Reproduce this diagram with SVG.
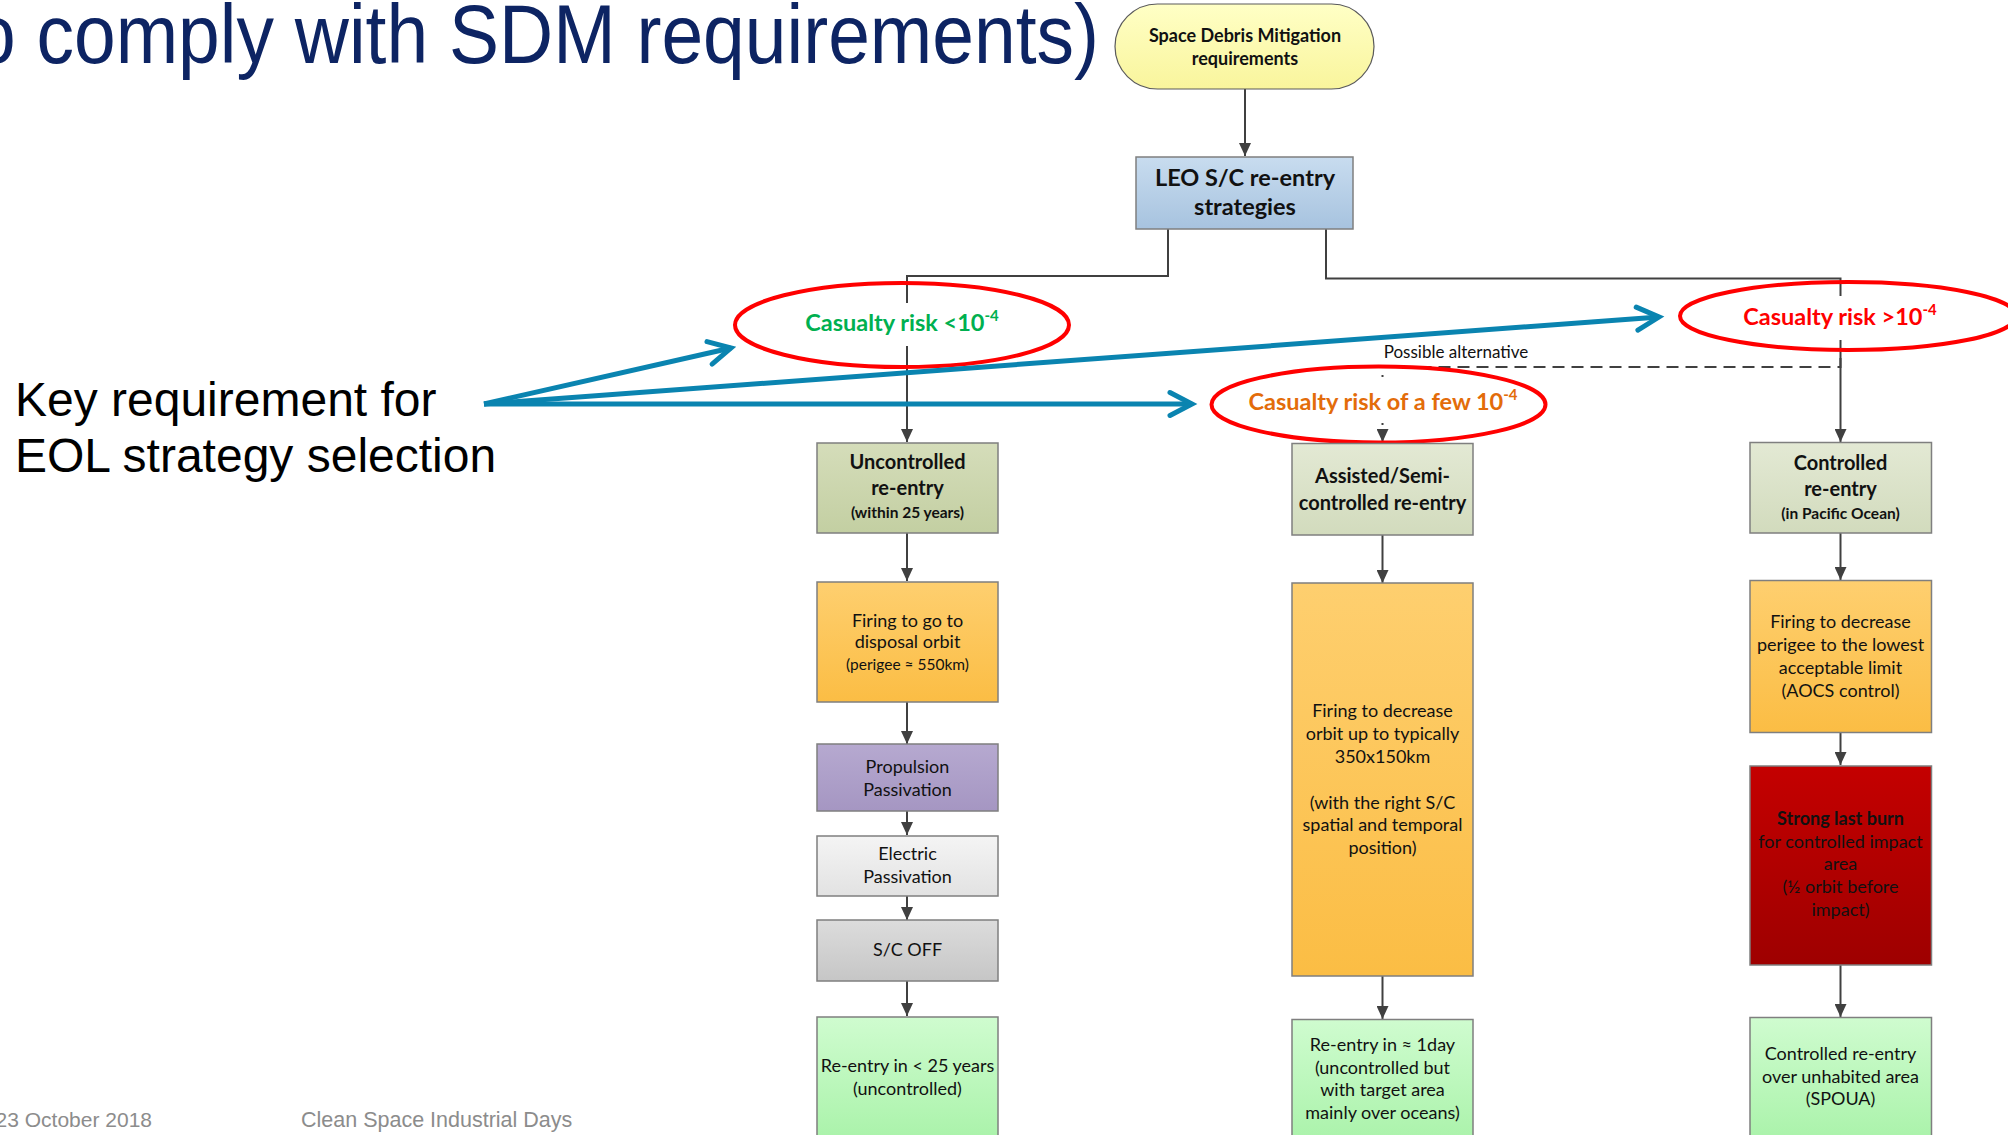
<svg xmlns="http://www.w3.org/2000/svg" width="2008" height="1135" viewBox="0 0 2008 1135">
  <style>
    .lbl { font-family: Lato, "Open Sans", "Liberation Sans", sans-serif; fill: #111111; text-anchor: middle; }
    .bold { font-weight: bold; }
    .body { font-size: 18px; }
    .head { font-size: 20px; font-weight: bold; }
    .sub { font-size: 15.5px; font-weight: bold; }
    .box { stroke: #7f7f7f; stroke-width: 1.5; }
    .conn { fill: none; stroke: #404040; stroke-width: 2; }
    .dash { fill: none; stroke: #404040; stroke-width: 2; stroke-dasharray: 12 7; }
    .ring { fill: none; stroke: #ff0000; stroke-width: 4; }
    .risk { font-family: Lato, "Open Sans", sans-serif; font-weight: bold; font-size: 23.5px; text-anchor: middle; }
    .sup { font-size: 15px; }
    .key { fill: none; stroke: #0a84b0; stroke-width: 5; }
    .slide { font-family: "Liberation Sans", Arial, sans-serif; }
  </style>
  <defs>
    <marker id="arr" markerUnits="userSpaceOnUse" markerWidth="14" markerHeight="12" refX="13" refY="6" orient="auto">
      <path d="M0,0 L13,6 L0,12 z" fill="#404040"/>
    </marker>
    <marker id="chev" markerUnits="userSpaceOnUse" markerWidth="40" markerHeight="40" refX="30" refY="20" orient="auto" overflow="visible">
      <path d="M8,8.5 L30,20 L8,31.5" fill="none" stroke="#0a84b0" stroke-width="5" stroke-linecap="round" stroke-linejoin="miter"/>
    </marker>
    <linearGradient id="gPill" x1="0" y1="0" x2="0" y2="1"><stop offset="0" stop-color="#ffffc6"/><stop offset="1" stop-color="#f9f59c"/></linearGradient>
    <linearGradient id="gBlue" x1="0" y1="0" x2="0" y2="1"><stop offset="0" stop-color="#c8dcef"/><stop offset="1" stop-color="#a7c3df"/></linearGradient>
    <linearGradient id="gOlive" x1="0" y1="0" x2="0" y2="1"><stop offset="0" stop-color="#d5ddba"/><stop offset="1" stop-color="#c3cfa2"/></linearGradient>
    <linearGradient id="gSage" x1="0" y1="0" x2="0" y2="1"><stop offset="0" stop-color="#e3e9d4"/><stop offset="1" stop-color="#d2dbbd"/></linearGradient>
    <linearGradient id="gOrange" x1="0" y1="0" x2="0" y2="1"><stop offset="0" stop-color="#fecf6f"/><stop offset="1" stop-color="#fbbd44"/></linearGradient>
    <linearGradient id="gPurple" x1="0" y1="0" x2="0" y2="1"><stop offset="0" stop-color="#b6a9d0"/><stop offset="1" stop-color="#a596c2"/></linearGradient>
    <linearGradient id="gLight" x1="0" y1="0" x2="0" y2="1"><stop offset="0" stop-color="#f4f4f4"/><stop offset="1" stop-color="#e2e2e2"/></linearGradient>
    <linearGradient id="gGrey" x1="0" y1="0" x2="0" y2="1"><stop offset="0" stop-color="#dcdcdc"/><stop offset="1" stop-color="#c6c6c6"/></linearGradient>
    <linearGradient id="gGreen" x1="0" y1="0" x2="0" y2="1"><stop offset="0" stop-color="#cffccf"/><stop offset="1" stop-color="#a8f2a8"/></linearGradient>
    <linearGradient id="gRed" x1="0" y1="0" x2="0" y2="1"><stop offset="0" stop-color="#c40000"/><stop offset="1" stop-color="#9e0000"/></linearGradient>
  </defs>

  <rect width="2008" height="1135" fill="#ffffff"/>

  <!-- slide title, footer and side note -->
  <text class="slide" transform="translate(1099,63) scale(1,1.12)" font-size="75" fill="#0d2463" text-anchor="end">o comply with SDM requirements)</text>
  <text class="slide" x="15" y="416" font-size="48" fill="#000000">Key requirement for</text>
  <text class="slide" x="15" y="472" font-size="48" fill="#000000">EOL strategy selection</text>
  <text class="slide" x="152" y="1127" font-size="21" fill="#8c8c8c" text-anchor="end">23 October 2018</text>
  <text class="slide" x="301" y="1127" font-size="21.5" fill="#8c8c8c">Clean Space Industrial Days</text>

  <!-- connectors -->
  <g id="connectors">
    <line class="conn" x1="1245" y1="89" x2="1245" y2="156" stroke="#595959" stroke-width="1.5" marker-end="url(#arr)"/>
    <polyline class="conn" points="1168,229 1168,276 907,276 907,442" marker-end="url(#arr)"/>
    <polyline class="conn" points="1326,229 1326,278.5 1840.5,278.5 1840.5,442" marker-end="url(#arr)"/>
    <polyline class="dash" points="1840.5,358 1840.5,367 1382.5,367 1382.5,442" marker-end="url(#arr)"/>
    <line class="conn" x1="907" y1="533" x2="907" y2="581" marker-end="url(#arr)"/>
    <line class="conn" x1="907" y1="702" x2="907" y2="744" marker-end="url(#arr)"/>
    <line class="conn" x1="907" y1="811" x2="907" y2="835" marker-end="url(#arr)"/>
    <line class="conn" x1="907" y1="896" x2="907" y2="920" marker-end="url(#arr)"/>
    <line class="conn" x1="907" y1="981" x2="907" y2="1016" marker-end="url(#arr)"/>
    <line class="conn" x1="1382.5" y1="535" x2="1382.5" y2="583" marker-end="url(#arr)"/>
    <line class="conn" x1="1382.5" y1="976" x2="1382.5" y2="1019" marker-end="url(#arr)"/>
    <line class="conn" x1="1840.5" y1="533" x2="1840.5" y2="580" marker-end="url(#arr)"/>
    <line class="conn" x1="1840.5" y1="732" x2="1840.5" y2="765" marker-end="url(#arr)"/>
    <line class="conn" x1="1840.5" y1="965" x2="1840.5" y2="1017" marker-end="url(#arr)"/>
  </g>

  <!-- risk levels -->
  <g id="risk-low">
    <rect x="806" y="303" width="204" height="43" fill="#ffffff"/>
    <ellipse class="ring" cx="902" cy="325" rx="167" ry="42"/>
    <text class="risk" x="902" y="331" fill="#00b050">Casualty risk &lt;10<tspan class="sup" dy="-10">-4</tspan></text>
  </g>
  <g id="risk-high">
    <rect x="1738" y="296" width="204" height="44" fill="#ffffff"/>
    <ellipse class="ring" cx="1848" cy="316" rx="168" ry="34"/>
    <text class="risk" x="1840" y="325" fill="#ff0000">Casualty risk &gt;10<tspan class="sup" dy="-10">-4</tspan></text>
  </g>
  <g id="risk-mid">
    <rect x="1244" y="377" width="280" height="46" fill="#ffffff"/>
    <ellipse class="ring" cx="1378.5" cy="404.5" rx="167" ry="38"/>
    <text class="risk" x="1383" y="410" fill="#e36c0a">Casualty risk of a few 10<tspan class="sup" dy="-10">-4</tspan></text>
  </g>
  <text id="alt-label" class="lbl" x="1456" y="358" font-size="17">Possible alternative</text>

  <!-- top of the tree -->
  <g id="sdm">
    <rect x="1115" y="4" width="259" height="85" rx="42.5" fill="url(#gPill)" stroke="#5a5a5a" stroke-width="1.2"/>
    <text class="lbl bold" x="1245" y="42" font-size="18">Space Debris Mitigation</text>
    <text class="lbl bold" x="1245" y="65" font-size="18">requirements</text>
  </g>
  <g id="leo">
    <rect class="box" x="1136" y="157" width="217" height="72" fill="url(#gBlue)" stroke="#595959"/>
    <text class="lbl bold" x="1245" y="186" font-size="23.5">LEO S/C re-entry</text>
    <text class="lbl bold" x="1245" y="215" font-size="23.5">strategies</text>
  </g>

  <!-- uncontrolled branch -->
  <g id="uncontrolled">
    <rect class="box" x="817" y="443" width="181" height="90" fill="url(#gOlive)"/>
    <text class="lbl head" x="907.5" y="469">Uncontrolled</text>
    <text class="lbl head" x="907.5" y="495">re-entry</text>
    <text class="lbl sub" x="907.5" y="518">(within 25 years)</text>
  </g>
  <g id="disposal-firing">
    <rect class="box" x="817" y="582" width="181" height="120" fill="url(#gOrange)"/>
    <text class="lbl body" x="907.5" y="627">Firing to go to</text>
    <text class="lbl body" x="907.5" y="648">disposal orbit</text>
    <text class="lbl" x="907.5" y="670" font-size="15.5">(perigee ≈  550km)</text>
  </g>
  <g id="propulsion-passivation">
    <rect class="box" x="817" y="744" width="181" height="67" fill="url(#gPurple)"/>
    <text class="lbl body" x="907.5" y="773">Propulsion</text>
    <text class="lbl body" x="907.5" y="796">Passivation</text>
  </g>
  <g id="electric-passivation">
    <rect class="box" x="817" y="836" width="181" height="60" fill="url(#gLight)"/>
    <text class="lbl body" x="907.5" y="860">Electric</text>
    <text class="lbl body" x="907.5" y="883">Passivation</text>
  </g>
  <g id="sc-off">
    <rect class="box" x="817" y="920" width="181" height="61" fill="url(#gGrey)"/>
    <text class="lbl body" x="907.5" y="956">S/C OFF</text>
  </g>
  <g id="reentry-25y">
    <rect class="box" x="817" y="1017" width="181" height="130" fill="url(#gGreen)"/>
    <text class="lbl body" x="907.5" y="1072">Re-entry in &lt; 25 years</text>
    <text class="lbl body" x="907.5" y="1095">(uncontrolled)</text>
  </g>

  <!-- assisted branch -->
  <g id="assisted">
    <rect class="box" x="1292" y="443.5" width="181" height="91.5" fill="url(#gSage)"/>
    <text class="lbl head" x="1382.5" y="483">Assisted/Semi-</text>
    <text class="lbl head" x="1382.5" y="509.5">controlled re-entry</text>
  </g>
  <g id="orbit-firing">
    <rect class="box" x="1292" y="583" width="181" height="393" fill="url(#gOrange)"/>
    <text class="lbl body" x="1382.5" y="716.5">Firing to decrease</text>
    <text class="lbl body" x="1382.5" y="739.5">orbit up to typically</text>
    <text class="lbl body" x="1382.5" y="762.5">350x150km</text>
    <text class="lbl body" x="1382.5" y="808.5">(with the right S/C</text>
    <text class="lbl body" x="1382.5" y="831">spatial and temporal</text>
    <text class="lbl body" x="1382.5" y="854">position)</text>
  </g>
  <g id="reentry-1day">
    <rect class="box" x="1292" y="1019.5" width="181" height="130" fill="url(#gGreen)"/>
    <text class="lbl body" x="1382.5" y="1051">Re-entry in ≈ 1day</text>
    <text class="lbl body" x="1382.5" y="1073.5">(uncontrolled but</text>
    <text class="lbl body" x="1382.5" y="1096">with target area</text>
    <text class="lbl body" x="1382.5" y="1118.5">mainly over oceans)</text>
  </g>

  <!-- controlled branch -->
  <g id="controlled">
    <rect class="box" x="1750" y="442.5" width="181.5" height="90.5" fill="url(#gSage)"/>
    <text class="lbl head" x="1840.5" y="470">Controlled</text>
    <text class="lbl head" x="1840.5" y="496">re-entry</text>
    <text class="lbl sub" x="1840.5" y="518.5">(in Pacific Ocean)</text>
  </g>
  <g id="perigee-firing">
    <rect class="box" x="1750" y="580.5" width="181.5" height="152" fill="url(#gOrange)"/>
    <text class="lbl body" x="1840.5" y="628">Firing to decrease</text>
    <text class="lbl body" x="1840.5" y="651">perigee to the lowest</text>
    <text class="lbl body" x="1840.5" y="674">acceptable limit</text>
    <text class="lbl body" x="1840.5" y="697">(AOCS control)</text>
  </g>
  <g id="last-burn">
    <rect class="box" x="1750" y="766" width="181.5" height="199" fill="url(#gRed)" stroke="#6e2a2a"/>
    <text class="lbl body bold" x="1840.5" y="825">Strong last burn</text>
    <text class="lbl body" x="1840.5" y="847.5">for controlled impact</text>
    <text class="lbl body" x="1840.5" y="870">area</text>
    <text class="lbl body" x="1840.5" y="893">(½ orbit before</text>
    <text class="lbl body" x="1840.5" y="916">impact)</text>
  </g>
  <g id="reentry-spoua">
    <rect class="box" x="1750" y="1017.5" width="181.5" height="130" fill="url(#gGreen)"/>
    <text class="lbl body" x="1840.5" y="1059.5">Controlled re-entry</text>
    <text class="lbl body" x="1840.5" y="1083">over unhabited area</text>
    <text class="lbl body" x="1840.5" y="1105">(SPOUA)</text>
  </g>

  <!-- key-requirement pointers -->
  <g id="key-pointers">
    <line class="key" x1="484" y1="404" x2="731" y2="348" marker-end="url(#chev)"/>
    <line class="key" x1="484" y1="404" x2="1659" y2="317" marker-end="url(#chev)"/>
    <line class="key" x1="484" y1="404" x2="1192" y2="404" marker-end="url(#chev)"/>
  </g>
</svg>
